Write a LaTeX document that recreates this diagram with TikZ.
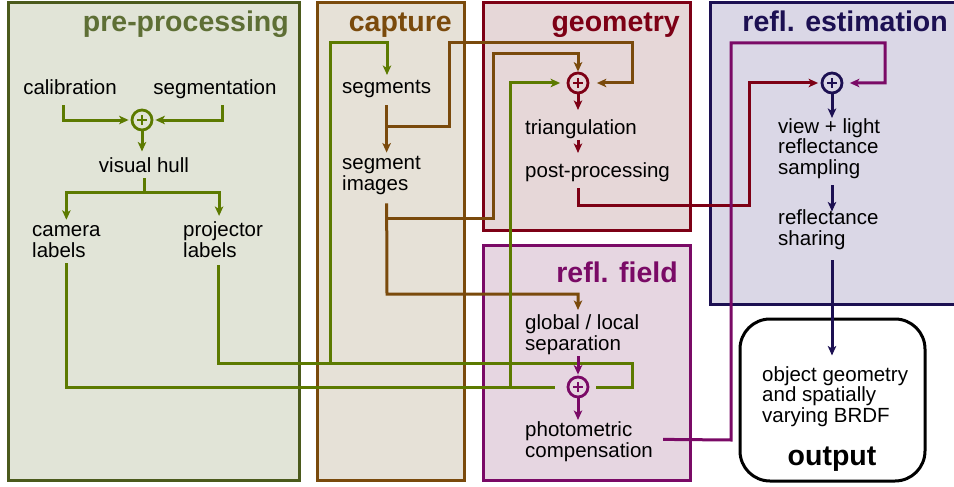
\documentclass[tikz,border=0pt]{standalone}
\usepackage{fontspec}
\setmainfont{Liberation Sans}
\usetikzlibrary{calc,arrows.meta}
\definecolor{preline}{HTML}{5C7A00}
\definecolor{preborder}{HTML}{4B5A1C}
\definecolor{prefill}{HTML}{E1E4D7}
\definecolor{pretitle}{HTML}{5E6F35}
\definecolor{capline}{HTML}{7A4A0C}
\definecolor{capfill}{HTML}{E6E1D7}
\definecolor{geoline}{HTML}{7D0015}
\definecolor{geofill}{HTML}{E6D7D8}
\definecolor{fldline}{HTML}{7A0A66}
\definecolor{fldfill}{HTML}{E6D6E1}
\definecolor{estline}{HTML}{1C1052}
\definecolor{estfill}{HTML}{DAD7E6}

\tikzset{
  txt/.style={inner sep=0pt, align=left, font=\fontsize{20.5}{20.5}\selectfont,
    execute at begin node=\strut, execute at end node=\strut},
  ttl/.style={inner sep=0pt, anchor=base east, font=\fontsize{28.5}{28.5}\selectfont\bfseries},
  stagebox/.style={line width=3pt, draw=#1},
  link/.style={line width=3pt, draw=#1},
  arr/.style={-{Stealth[length=9.5pt,width=8.5pt,inset=2.5pt]}},
  plus/.style={circle, draw=#1, line width=2.8pt, minimum size=20pt, inner sep=0pt,
    path picture={\draw[#1, line width=2.4pt] (path picture bounding box.center) +(-5pt,0) -- +(5pt,0) +(0,-5pt) -- +(0,5pt);}}
}

\begin{document}
\begin{tikzpicture}[x=1pt, y=-1pt]
  \useasboundingbox (0,0) rectangle (954,487);
  \fill[white] (0,0) rectangle (954,487);

  % stages
  \draw[stagebox=preborder, fill=prefill] (8,3) rectangle (299,480);
  \draw[stagebox=capline, fill=capfill] (317,3) rectangle (464,480);
  \draw[stagebox=geoline, fill=geofill] (483,3) rectangle (690,230);
  \draw[stagebox=fldline, fill=fldfill] (483,245) rectangle (690,480);
  \draw[stagebox=estline, fill=estfill] (710,3) rectangle (970,304);
  \node[ttl, text=pretitle] (preTitle) at (289,32) {pre-processing};
  \node[ttl, text=capline] (capTitle) at (452,32) {capture};
  \node[ttl, text=geoline] (geoTitle) at (680,32) {geometry};
  \node[ttl, text=fldline] (fldTitle) at (678,282) {refl. field};
  \node[ttl, text=estline] (estTitle) at (948,32) {refl. estimation};

  % pre-processing
  \node[txt, anchor=base] (calib) at (70,95) {calibration};
  \node[txt, anchor=base] (segm) at (215,95) {segmentation};
  \node[plus=preline] (plusPre) at (142,120) {};
  \node[txt, anchor=base] (hull) at (144,172) {visual hull};
  \node[txt, anchor=base west] (camLab) at (32,257) {camera\\labels};
  \node[txt, anchor=base west] (projLab) at (183,257) {projector\\labels};

  % capture
  \node[txt, anchor=base west] (segs) at (342,93) {segments};
  \node[txt, anchor=base west] (segImg) at (342,190) {segment\\images};

  % geometry
  \node[plus=geoline] (plusGeo) at (578,83) {};
  \node[txt, anchor=base west] (triang) at (525,134) {triangulation};
  \node[txt, anchor=base west] (postProc) at (525,177) {post-processing};

  % refl. field
  \node[txt, anchor=base west] (globLoc) at (525,350) {global / local\\separation};
  \node[plus=fldline] (plusFld) at (578,387) {};
  \node[txt, anchor=base west] (photo) at (525,457) {photometric\\compensation};

  % refl. estimation
  \node[plus=estline] (plusEst) at (832,83) {};
  \node[txt, anchor=base west] (sampling) at (778,174) {view + light\\reflectance\\sampling};
  \node[txt, anchor=base west] (sharing) at (778,245) {reflectance\\sharing};

  % output
  \node[draw, line width=3pt, rounded corners=30pt, fill=white, minimum width=185pt,
    minimum height=162pt] (outBox) at (832.5,400) {};
  \node[txt, anchor=base west] (outText) at (762,422) {object geometry\\and spatially\\varying BRDF};
  \node[ttl, anchor=base] (outLabel) at (832,465) {output};

  % routing points
  \coordinate (capFork) at (387,126);
  \coordinate (imgFork) at (387,218);
  \coordinate (camFork) at (510,387);
  \coordinate (projFork) at (330,363);

  % capture links
  \draw[link=capline, arr, shorten >=3.5pt] ($(segs.south)+(0,6)$) -- (segs.south |- segImg.north);
  \draw[link=capline, arr, shorten >=7.5pt] (capFork) -- (449,126) |- (632,43) |- (plusGeo);
  \draw[link=capline, arr, shorten >=4.5pt] ($(segs.south |- segImg.south)+(0,7)$) -- (387,294) -| (plusFld |- globLoc.north);
  \draw[link=capline, arr] (imgFork) -- (493,218) |- (578,54) -- (plusGeo);

  % pre-processing links
  \draw[link=preline, arr, shorten >=2pt] ($(calib.south)+(-7,4)$) |- (plusPre);
  \draw[link=preline, arr, shorten >=2pt] ($(segm.south)+(7,4)$) |- (plusPre);
  \draw[link=preline, arr, shorten >=5.5pt] (plusPre) -- (plusPre |- hull.north);
  \draw[link=preline, arr, shorten >=5.5pt] (hull.south) -- ++(0,14) -| (camLab.north);
  \draw[link=preline, arr, shorten >=5.5pt] ($(hull.south)+(0,14)$) -| ($(projLab.north)+(-4,0)$);
  \draw[link=preline, shorten >=12pt] (camLab.south) |- (plusFld);
  \draw[link=preline, arr, shorten >=6.5pt] (camFork) |- (plusGeo);
  \draw[link=preline, shorten >=6.5pt] ($(projLab.south)+(-5,2)$) |- (632,363) |- (plusFld);
  \draw[link=preline, arr, shorten >=3.5pt] (projFork) |- (387,43) -- (segs.north -| capFork);

  % geometry links
  \draw[link=geoline, arr, shorten >=9pt] (plusGeo) -- (plusGeo |- triang.north);
  \draw[link=geoline, arr, shorten >=9pt] (plusGeo |- triang.south) -- (plusGeo |- postProc.north);
  \draw[link=geoline, arr, shorten >=2.5pt] ($(plusGeo |- postProc.south)+(0,5)$) |- (749,205) |- (plusEst);

  % refl. field links
  \draw[link=fldline, arr, shorten >=1pt] (plusFld |- globLoc.south) -- (plusFld);
  \draw[link=fldline, arr, shorten >=1.5pt] (plusFld) -- (plusFld |- photo.north);
  \draw[link=fldline, arr, shorten >=6.5pt] ($(photo.east)+(10,-3)$) -- (731,440) |- (885,43) |- (plusEst);

  % refl. estimation links
  \draw[link=estline, arr] (plusEst) -- (plusEst |- sampling.north);
  \draw[link=estline, arr, shorten >=-2pt] ($(plusEst |- sampling.south)+(0,5)$) -- (plusEst |- sharing.north);
  \draw[link=estline, arr, shorten >=10.5pt] ($(plusEst |- sharing.south)+(0,9)$) -- (plusEst |- outText.north);
\end{tikzpicture}
\end{document}
